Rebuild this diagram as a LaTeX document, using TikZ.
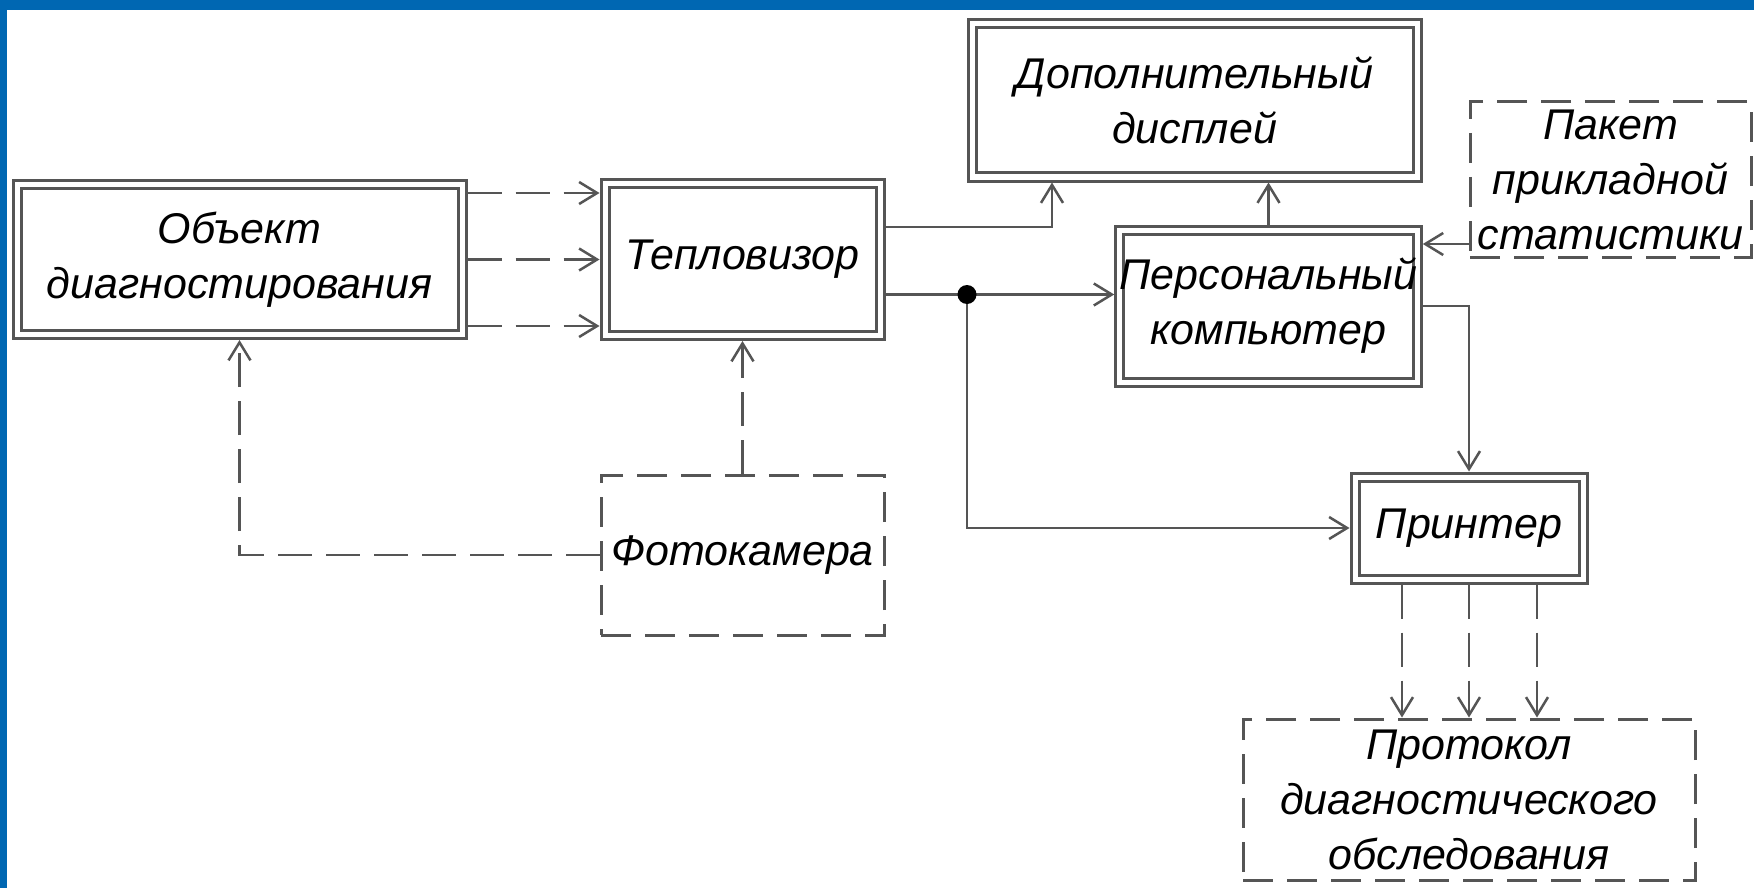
\documentclass[tikz,border=0pt]{standalone}
\usepackage{fontspec}
\setmainfont{Liberation Sans}
\usetikzlibrary{arrows.meta}
\definecolor{bluebar}{RGB}{0,103,178}
\definecolor{linegray}{RGB}{85,85,85}
\begin{document}
\begin{tikzpicture}[x=1pt,y=-1pt,
  every node/.style={font=\fontsize{43}{55}\selectfont\itshape, align=center, inner sep=0pt, text=black},
  dbox/.style={draw=linegray, line width=3pt, double=white, double distance=5pt, outer sep=5.5pt},
  dashbox/.style={draw=linegray, line width=3pt, dash pattern=on 30pt off 14pt, outer sep=1.5pt},
  conn/.style={draw=linegray, line width=2.5pt},
  dconn/.style={conn, dash pattern=on 34pt off 14pt},
  >={Straight Barb[length=18pt,width=22pt]},
  dotnode/.style={circle, fill=black, minimum size=19pt, inner sep=0pt, outer sep=0pt}]
\useasboundingbox (0,0) rectangle (1754,888);
\fill[white] (0,0) rectangle (1754,888);
\fill[bluebar] (0,0) rectangle (1754,10);
\fill[bluebar] (0,0) rectangle (7,888);

\node[dbox, minimum width=445pt, minimum height=150pt] (obj) at (239.5,259.5) {Объект\\диагностирования};
\node[dbox, minimum width=275pt, minimum height=152pt] (tep) at (742.5,259.5) {Тепловизор};
\node[dbox, minimum width=445pt, minimum height=153pt] (dop) at (1194.5,100.5) {Дополнительный\\дисплей};
\node[dbox, minimum width=291pt, minimum height=152pt] (pk) at (1268.5,306) {Персональный\\компьютер};
\node[dbox, minimum width=228pt, minimum height=102pt] (printer) at (1469,528) {Принтер};
\node[dashbox, minimum width=283pt, minimum height=160pt] (foto) at (742.5,555) {Фотокамера};
\node[dashbox, minimum width=281pt, minimum height=155pt] (paket) at (1610.5,179.5) {Пакет\\прикладной\\статистики};
\node[dashbox, minimum width=452pt, minimum height=161pt] (prot) at (1469,799.5) {Протокол\\диагностического\\обследования};

% object -> thermal imager
\foreach \s in {66.5,0,-66.5}{
  \draw[dconn,->] ([yshift=\s pt]obj.east) -- ([yshift=\s pt]tep.west);
}
% printer -> protocol
\foreach \s in {-67,0,68}{
  \draw[dconn,->] ([xshift=\s pt]printer.south) -- ([xshift=\s pt]printer.south |- prot.north);
}
% thermal imager -> extra display
\draw[conn,->] ([yshift=32.5pt]tep.east) -| ([xshift=-142.5pt]dop.south);
% thermal imager -> PC
\draw[conn,->] ([yshift=-35pt]tep.east) coordinate (t2) -- (t2 -| pk.west);
\node[dotnode] (j) at (967,294.5) {};
\draw[conn,->] (j) |- (printer.west);
% PC -> display
\draw[conn,->] (pk.north) -- (pk.north |- dop.south);
% package -> PC
\draw[conn,->] ([yshift=-64.5pt]paket.west) coordinate (p1) -- (p1 -| pk.east);
% PC -> printer
\draw[conn,->] (pk.east) -| (printer.north);
% camera -> thermal imager, camera -> object
\draw[dconn,->] (foto.north) -- (foto.north |- tep.south);
\draw[dconn,->] (foto.west) -| (obj.south);
\end{tikzpicture}
\end{document}
